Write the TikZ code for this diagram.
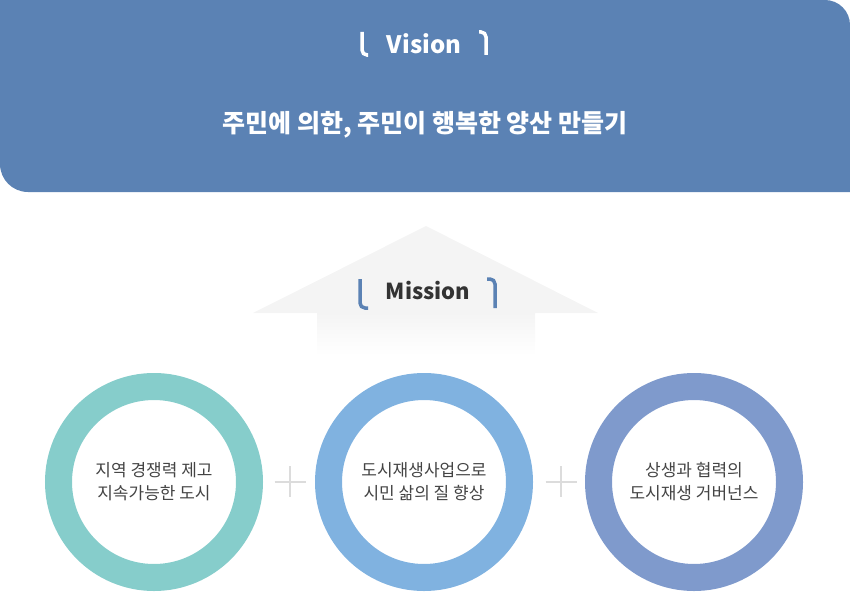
\documentclass[tikz,border=0pt]{standalone}
\usepackage{fontspec}
\setmainfont{Noto Sans CJK KR}
\usepackage{tikz}
\usepackage{xcolor}
\usetikzlibrary{positioning}
\definecolor{bannerblue}{RGB}{91,130,180}
\definecolor{arrowgray}{RGB}{244,244,244}
\definecolor{plusgray}{RGB}{220,220,220}
\definecolor{textgray}{RGB}{68,68,68}
\definecolor{titlegray}{RGB}{51,51,51}
\definecolor{ringteal}{RGB}{134,205,203}
\definecolor{ringsky}{RGB}{128,178,224}
\definecolor{ringblue}{RGB}{127,154,204}

\begin{document}
\begin{tikzpicture}
  [x=1pt,y=-1pt,
   ring/.style={circle,line width=27pt,minimum size=191pt,inner sep=0pt,align=center,text=textgray,font=\fontsize{17}{23}\selectfont},
   heading/.style={anchor=base,font=\bfseries\fontsize{#1}{28}\selectfont},
   bracket/.style={line width=3.5pt,rounded corners=5pt},
   plus/.style={draw=plusgray,line width=2pt}]
  \useasboundingbox (0,0) rectangle (850,610);
  % vision banner
  \fill[bannerblue] (0,0) -- (825,0) .. controls (838.8,0) and (850,11.2) .. (850,25)
    -- (850,192) -- (28,192) .. controls (12.5,192) and (0,179.5) .. (0,164) -- cycle;
  \node[heading=24,text=white] (vision) at (424,53) {Vision};
  \draw[bracket,white] (362,32) |- (368,55);
  \draw[bracket,white] (479,32) -| (486,55);
  \node[heading=25,text=white] (slogan) at (425,132) {주민에 의한, 주민이 행복한 양산 만들기};
  % mission arrow
  \fill[arrowgray] (426,226) -- (598,313) -- (253,313) -- cycle;
  \shade[top color=arrowgray,bottom color=white] (317,312.5) rectangle (535,355);
  \node[heading=22,text=titlegray] (mission) at (428,299) {Mission};
  \draw[bracket,bannerblue] (360,279) |- (368,308);
  \draw[bracket,bannerblue] (487,279) -| (495,308);
  % missions
  \foreach \name/\x/\col/\txt in {c1/154/ringteal/{지역 경쟁력 제고\\지속가능한 도시},
                                  c2/424/ringsky/{도시재생사업으로\\시민 삶의 질 향상},
                                  c3/694/ringblue/{상생과 협력의\\도시재생 거버넌스}}
    \node[ring,draw=\col] (\name) at (\x,482) {\txt};
  \foreach \x in {290,561}
    \draw[plus] (\x,466) -- (\x,497) (\x-15.5,481.5) -- (\x+15.5,481.5);
\end{tikzpicture}
\end{document}
